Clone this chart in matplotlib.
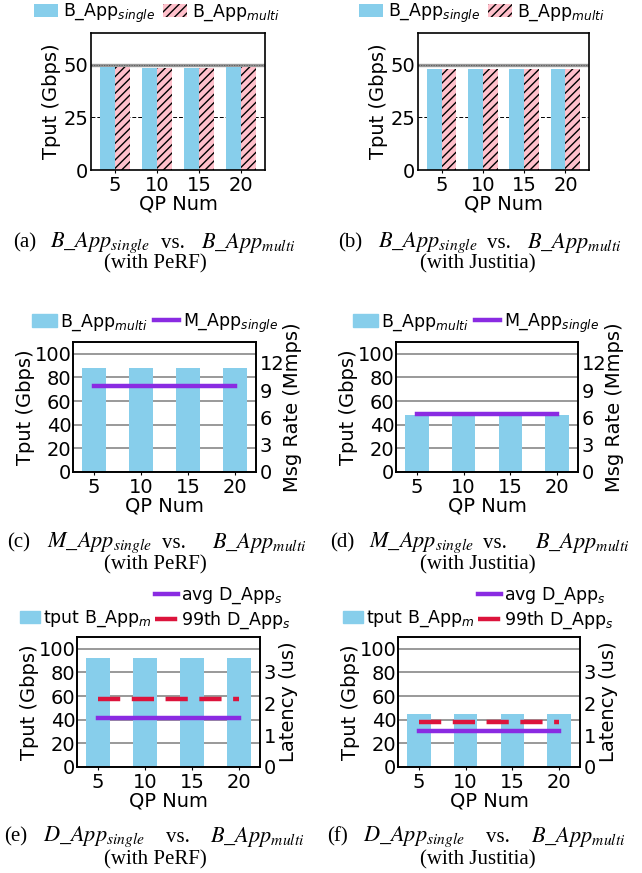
import numpy as np
import matplotlib
matplotlib.use('Agg')
import matplotlib.pyplot as plt
from matplotlib.patches import Patch
from matplotlib.lines import Line2D

plt.rcParams['font.family'] = ['DejaVu Sans']
plt.rcParams['hatch.linewidth'] = 1.0

qp_labels = ['5', '10', '15', '20']

# (a)/(b) throughput of B_App single vs multi
a_single = [48.9, 48.4, 48.4, 48.9]
a_multi = [48.9, 48.4, 48.4, 48.9]
b_single = [47.8, 47.8, 47.8, 47.8]
b_multi = [47.8, 47.8, 47.8, 47.8]

# (c)/(d) B_App multi throughput and M_App single message rate (Mmps)
c_tput = [88.4, 88.4, 88.4, 88.4]
c_rate = [9.5, 9.5, 9.5, 9.5]
d_tput = [48.3, 48.3, 48.3, 48.3]
d_rate = [6.4, 6.4, 6.4, 6.4]

# (e)/(f) B_App multi throughput and D_App single latency (us)
e_tput = [92.4, 92.4, 92.4, 92.4]
e_avg = [1.53, 1.53, 1.53, 1.53]
e_p99 = [2.13, 2.13, 2.13, 2.13]
f_tput = [45.0, 45.0, 45.0, 45.0]
f_avg = [1.13, 1.13, 1.13, 1.13]
f_p99 = [1.41, 1.41, 1.41, 1.41]

BLUE = '#87CEEB'
PINK = '#FFC0CB'
PURPLE = '#8A2BE2'
RED = '#DC143C'
LEG_FS = 12.5

W, H = 642, 873
fig = plt.figure(figsize=(W / 100, H / 100), dpi=100)


def px_axes(x0, y0, x1, y1):
    return fig.add_axes([x0 / W, 1 - y1 / H, (x1 - x0) / W, (y1 - y0) / H])


def fx(x):
    return x / W


def fy(y):
    return 1 - y / H


def style(ax, ypad=1.2):
    for s in ax.spines.values():
        s.set_linewidth(1.2)
    ax.tick_params(labelsize=14)
    ax.tick_params(axis='x', length=2, pad=2)
    ax.tick_params(axis='y', length=0, pad=ypad)


def pair_panel(box, single, multi, leg_xy):
    ax = px_axes(*box)
    x = np.arange(len(qp_labels))
    w = 0.36
    ax.set_axisbelow(True)
    ax.bar(x - w / 2, single, w, color=BLUE, label='B_App$_{single}$')
    ax.bar(x + w / 2, multi, w, color=PINK, hatch='////', edgecolor='black',
           linewidth=0, label='B_App$_{multi}$')
    ax.axhline(50, color='#999999', lw=2.4, zorder=0.5)
    ax.axhline(50, color='#555555', lw=0.6, ls=(0, (1.5, 1.5)), zorder=0.6)
    ax.axhline(25, color='black', lw=0.7, ls=(0, (4, 2)), zorder=0.5)
    ax.set_xlim(-0.57, 3.57)
    ax.set_ylim(0, 65)
    ax.set_yticks([0, 25, 50])
    ax.set_xticks(x)
    ax.set_xticklabels(qp_labels)
    ax.set_ylabel('Tput (Gbps)', fontsize=14, labelpad=2)
    ax.set_xlabel('QP Num', fontsize=14, labelpad=0)
    style(ax, ypad=2)
    ax.legend(loc='center', bbox_to_anchor=(fx(leg_xy[0]), fy(leg_xy[1])),
              bbox_transform=fig.transFigure, ncol=2, frameon=False, fontsize=LEG_FS,
              handlelength=1.35, handleheight=0.75, handletextpad=0.3,
              columnspacing=0.45, borderpad=0)
    return ax


def twin_panel(box, tput, rmax, rticks, rlabel, rpad):
    ax = px_axes(*box)
    x = np.arange(len(qp_labels))
    ax.set_axisbelow(True)
    ax.yaxis.grid(True, color='#888888', lw=1.2)
    ax.bar(x, tput, 0.5, color=BLUE)
    ax.set_xlim(-0.45, 3.45)
    ax.set_ylim(0, 110)
    ax.set_yticks([0, 20, 40, 60, 80, 100])
    ax.set_xticks(x)
    ax.set_xticklabels(qp_labels)
    ax.set_ylabel('Tput (Gbps)', fontsize=14, labelpad=-0.5)
    ax.set_xlabel('QP Num', fontsize=14, labelpad=0)
    style(ax)
    ax2 = ax.twinx()
    ax2.set_ylim(0, rmax)
    ax2.set_yticks(rticks)
    ax2.set_ylabel(rlabel, fontsize=14, labelpad=rpad)
    style(ax2, ypad=2.5)
    return ax, ax2


# (a) and (b)
pair_panel((91, 33, 265, 170), a_single, a_multi, (157, 13))
pair_panel((418, 33, 589, 170), b_single, b_multi, (482, 13))

# (c) and (d)
for box, tput, rate, lx in [((73, 342, 256, 472), c_tput, c_rate, 155),
                            ((396, 342, 578, 472), d_tput, d_rate, 476)]:
    ax, ax2 = twin_panel(box, tput, 14.3, [0, 3, 6, 9, 12], 'Msg Rate (Mmps)', -1)
    ax2.plot(np.arange(4), rate, color=PURPLE, lw=3.2)
    handles = [Patch(color=BLUE), Line2D([], [], color=PURPLE, lw=3.2)]
    ax2.legend(handles, ['B_App$_{multi}$', 'M_App$_{single}$'], loc='center',
               bbox_to_anchor=(fx(lx), fy(323)), bbox_transform=fig.transFigure,
               ncol=2, frameon=False, fontsize=LEG_FS, handlelength=1.45,
               handleheight=0.75, handletextpad=0.2, columnspacing=0.35, borderpad=0)

# (e) and (f)
for box, tput, avg, p99, bx, lx in [((77, 637, 260, 767), e_tput, e_avg, e_p99, 20, 155),
                                    ((398, 637, 580, 767), f_tput, f_avg, f_p99, 343, 478)]:
    ax, ax2 = twin_panel(box, tput, 4.07, [0, 1, 2, 3], 'Latency (us)', 2)
    ax2.plot(np.arange(4), p99, color=RED, lw=3.2, dashes=(5, 2.6))
    ax2.plot(np.arange(4), avg, color=PURPLE, lw=3.2)
    leg1 = ax2.legend([Patch(color=BLUE)], ['tput B_App$_{m}$'], loc='center left',
                      bbox_to_anchor=(fx(bx), fy(619)), bbox_transform=fig.transFigure,
                      frameon=False, fontsize=LEG_FS, handlelength=1.15, handleheight=0.75,
                      handletextpad=0.2, borderpad=0, borderaxespad=0)
    ax2.add_artist(leg1)
    lh = [Line2D([], [], color=PURPLE, lw=3.2),
          Line2D([], [], color=RED, lw=3.2, dashes=(5, 2.6))]
    ax2.legend(lh, ['avg D_App$_{s}$', '99th D_App$_{s}$'], loc='center left',
               bbox_to_anchor=(fx(lx), fy(608.5)), bbox_transform=fig.transFigure,
               frameon=False, fontsize=LEG_FS, handlelength=1.35, handletextpad=0.15,
               labelspacing=0.2, borderpad=0, borderaxespad=0)

# captions
cap = dict(family=['Liberation Serif', 'DejaVu Serif'], fontsize=15,
           math_fontfamily='stix', va='center')
mcap = dict(cap, fontsize=16)
captions = [
    ('(a)', r'$B\_App_{single}$', r'$B\_App_{multi}$', '(with PeRF)',
     13, 50, 161, 296, 243, 264, 155),
    ('(b)', r'$B\_App_{single}$', r'$B\_App_{multi}$', '(with Justitia)',
     338, 378, 487, 622, 243, 264, 478),
    ('(c)', r'$M\_App_{single}$', r'$B\_App_{multi}$', '(with PeRF)',
     7, 47, 162, 307, 543, 565, 155),
    ('(d)', r'$M\_App_{single}$', r'$B\_App_{multi}$', '(with Justitia)',
     330, 369, 483, 630, 543, 565, 478),
    ('(e)', r'$D\_App_{single}$', r'$B\_App_{multi}$', '(with PeRF)',
     4, 43, 166, 305, 837, 860, 155),
    ('(f)', r'$D\_App_{single}$', r'$B\_App_{multi}$', '(with Justitia)',
     327, 363, 486, 626, 837, 860, 478),
]
for tag, left, right, sub, xt, xl, xv, xr, y1, y2, xc in captions:
    fig.text(fx(xt), fy(y1), tag, ha='left', **cap)
    fig.text(fx(xl), fy(y1), left, ha='left', **mcap)
    fig.text(fx(xv), fy(y1), 'vs.', ha='left', **cap)
    fig.text(fx(xr), fy(y1), right, ha='right', **mcap)
    fig.text(fx(xc), fy(y2), sub, ha='center', **cap)

fig.savefig('out.png', dpi=100)
